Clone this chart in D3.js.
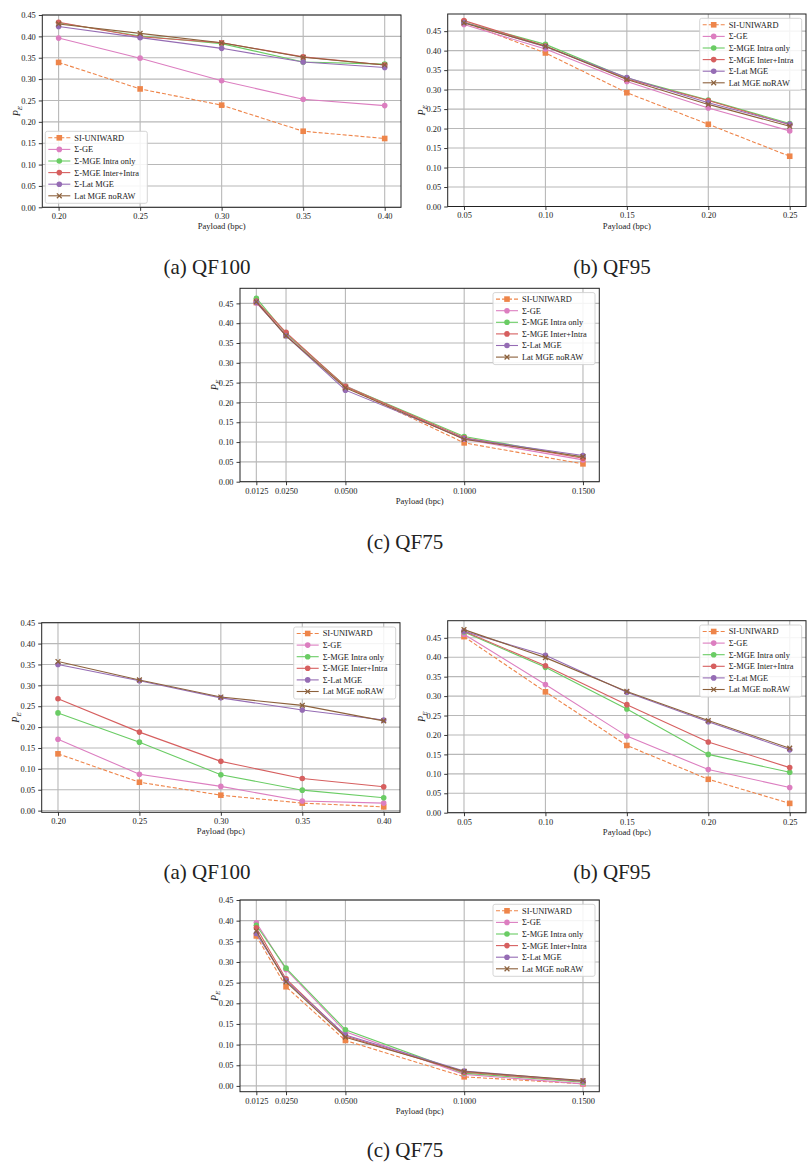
<!DOCTYPE html>
<html>
<head>
<meta charset="utf-8">
<script src="https://cdn.jsdelivr.net/npm/d3@7"></script>
<style>
  html, body { margin: 0; padding: 0; background: #fff; }
  svg { display: block; }
  text { font-family: "Liberation Serif", "Times New Roman", serif; fill: #222; }
</style>
</head>
<body>
<svg id="chart" width="811" height="1169"></svg>
<script>
// ---------------- DATA ----------------
const seriesNames = ["SI-UNIWARD", "Σ-GE", "Σ-MGE Intra only", "Σ-MGE Inter+Intra", "Σ-Lat MGE", "Lat MGE noRAW"];
const seriesColors = ["#ee854a", "#dc7ec0", "#6acc64", "#d65f5f", "#956cb4", "#8c613c"];
const seriesMarkers = ["square", "circle", "circle", "circle", "circle", "x"];
const seriesDashed = [true, false, false, false, false, false];

const payloadQF100 = [0.20, 0.25, 0.30, 0.35, 0.40];
const payloadQF95 = [0.05, 0.10, 0.15, 0.20, 0.25];
const payloadQF75 = [0.0125, 0.0250, 0.0500, 0.1000, 0.1500];

const yTicks = [0.00, 0.05, 0.10, 0.15, 0.20, 0.25, 0.30, 0.35, 0.40, 0.45];

// Top figure
const peTopQF100 = [
  [0.339, 0.277, 0.239, 0.178, 0.161],
  [0.396, 0.349, 0.296, 0.253, 0.238],
  [0.432, 0.401, 0.383, 0.340, 0.335],
  [0.433, 0.399, 0.385, 0.352, 0.333],
  [0.423, 0.397, 0.372, 0.340, 0.327],
  [0.429, 0.407, 0.385, 0.351, 0.333]
];
const peTopQF95 = [
  [0.473, 0.394, 0.292, 0.211, 0.129],
  [0.467, 0.404, 0.321, 0.253, 0.194],
  [0.473, 0.416, 0.330, 0.273, 0.213],
  [0.477, 0.412, 0.327, 0.272, 0.210],
  [0.472, 0.410, 0.331, 0.266, 0.211],
  [0.471, 0.411, 0.326, 0.262, 0.206]
];
const peTopQF75 = [
  [0.452, 0.372, 0.240, 0.098, 0.045],
  [0.451, 0.371, 0.242, 0.107, 0.055],
  [0.463, 0.374, 0.241, 0.114, 0.061],
  [0.456, 0.377, 0.240, 0.111, 0.059],
  [0.453, 0.368, 0.231, 0.109, 0.066],
  [0.454, 0.368, 0.237, 0.107, 0.063]
];
// Bottom figure
const peBotQF100 = [
  [0.136, 0.068, 0.037, 0.018, 0.009],
  [0.171, 0.087, 0.058, 0.023, 0.018],
  [0.234, 0.164, 0.086, 0.049, 0.031],
  [0.268, 0.188, 0.118, 0.077, 0.057],
  [0.350, 0.311, 0.270, 0.241, 0.217],
  [0.357, 0.313, 0.272, 0.252, 0.215]
];
const peBotQF95 = [
  [0.453, 0.311, 0.173, 0.086, 0.024],
  [0.459, 0.330, 0.197, 0.111, 0.065],
  [0.465, 0.374, 0.267, 0.150, 0.104],
  [0.467, 0.378, 0.278, 0.182, 0.116],
  [0.467, 0.405, 0.310, 0.234, 0.162],
  [0.471, 0.399, 0.312, 0.237, 0.166]
];
const peBotQF75 = [
  [0.363, 0.240, 0.110, 0.022, 0.005],
  [0.395, 0.282, 0.131, 0.028, 0.005],
  [0.389, 0.285, 0.136, 0.031, 0.009],
  [0.383, 0.259, 0.121, 0.033, 0.011],
  [0.369, 0.255, 0.123, 0.036, 0.012],
  [0.375, 0.252, 0.118, 0.035, 0.013]
];

const captions = ["(a) QF100", "(b) QF95", "(c) QF75"];

// ---------------- LAYOUT ----------------
const panels = [
  { x: payloadQF100, data: peTopQF100, fmt: ".2f", l: 42.3, r: 401, t: 15, b: 207.3, ylim: [0, 0.45], legend: "ll", cap: captions[0], capX: 207, capY: 267 },
  { x: payloadQF95, data: peTopQF95, fmt: ".2f", l: 447.7, r: 806, t: 14, b: 206.5, ylim: [0, 0.494], legend: "ur", cap: captions[1], capX: 612, capY: 267 },
  { x: payloadQF75, data: peTopQF75, fmt: ".4f", l: 240, r: 599.3, t: 288.3, b: 481.7, ylim: [0, 0.488], legend: "ur", cap: captions[2], capX: 405, capY: 542 },
  { x: payloadQF100, data: peBotQF100, fmt: ".2f", l: 41.7, r: 400, t: 622.7, b: 812.3, ylim: [-0.004, 0.45], legend: "ur", cap: captions[0], capX: 207, capY: 872 },
  { x: payloadQF95, data: peBotQF95, fmt: ".2f", l: 447.7, r: 806, t: 620.7, b: 812.7, ylim: [0, 0.494], legend: "ur", cap: captions[1], capX: 612, capY: 872 },
  { x: payloadQF75, data: peBotQF75, fmt: ".4f", l: 240, r: 599.3, t: 900, b: 1091.7, ylim: [-0.014, 0.45], legend: "ur", cap: captions[2], capX: 405, capY: 1150 }
];

const svg = d3.select("#chart");
svg.append("rect").attr("width", 811).attr("height", 1169).attr("fill", "#fff");

function drawMarker(g, type, cx, cy, color) {
  if (type === "circle") {
    g.append("circle").attr("cx", cx).attr("cy", cy).attr("r", 2.8).attr("fill", color);
  } else if (type === "square") {
    g.append("rect").attr("x", cx - 2.8).attr("y", cy - 2.8).attr("width", 5.6).attr("height", 5.6).attr("fill", color);
  } else {
    const s = 2.4;
    g.append("path").attr("d", `M${cx - s},${cy - s}L${cx + s},${cy + s}M${cx - s},${cy + s}L${cx + s},${cy - s}`)
      .attr("stroke", color).attr("stroke-width", 1.3).attr("fill", "none");
  }
}

panels.forEach(p => {
  const xr = p.x[p.x.length - 1] - p.x[0];
  const xs = d3.scaleLinear().domain([p.x[0] - 0.05 * xr, p.x[p.x.length - 1] + 0.05 * xr]).range([p.l, p.r]);
  const ys = d3.scaleLinear().domain(p.ylim).range([p.b, p.t]);
  const g = svg.append("g");
  const ticksY = yTicks.filter(v => v >= p.ylim[0] - 1e-9 && v <= p.ylim[1] + 1e-9);

  // grid
  g.append("g").selectAll("line.gy").data(ticksY).join("line")
    .attr("x1", p.l).attr("x2", p.r).attr("y1", d => ys(d)).attr("y2", d => ys(d))
    .attr("stroke", "#b8b8b8").attr("stroke-width", 1.1);
  g.append("g").selectAll("line.gx").data(p.x).join("line")
    .attr("y1", p.t).attr("y2", p.b).attr("x1", d => xs(d)).attr("x2", d => xs(d))
    .attr("stroke", "#b8b8b8").attr("stroke-width", 1.1);

  // axes
  const yAxis = d3.axisLeft(ys).tickValues(ticksY).tickFormat(d3.format(".2f")).tickSize(3.5).tickPadding(3);
  const xAxis = d3.axisBottom(xs).tickValues(p.x).tickFormat(d3.format(p.fmt)).tickSize(3.5).tickPadding(2.5);
  const ga = g.append("g").attr("transform", `translate(${p.l},0)`).call(yAxis);
  const gb = g.append("g").attr("transform", `translate(0,${p.b})`).call(xAxis);
  [ga, gb].forEach(a => {
    a.select(".domain").remove();
    a.selectAll(".tick line").attr("stroke", "#222").attr("stroke-width", 0.9);
    a.selectAll(".tick text").attr("font-family", "Liberation Serif, serif").attr("font-size", 8.4).attr("fill", "#333");
  });

  // series
  p.data.forEach((vals, si) => {
    const pts = p.x.map((xv, i) => [xs(xv), ys(vals[i])]);
    const sg = g.append("g");
    sg.append("path").attr("d", d3.line()(pts)).attr("fill", "none")
      .attr("stroke", seriesColors[si]).attr("stroke-width", 1.1)
      .attr("stroke-dasharray", seriesDashed[si] ? "4,2" : null);
    pts.forEach(pt => drawMarker(sg, seriesMarkers[si], pt[0], pt[1], seriesColors[si]));
  });

  // frame
  g.append("rect").attr("x", p.l).attr("y", p.t).attr("width", p.r - p.l).attr("height", p.b - p.t)
    .attr("fill", "none").attr("stroke", "#222").attr("stroke-width", 1);

  // legend
  const lw = 102, lh = 72;
  const lx = p.legend === "ll" ? p.l + 3 : p.r - 4.3 - lw;
  const ly = p.legend === "ll" ? p.b - 4 - lh : p.t + 4.3;
  const lg = g.append("g");
  lg.append("rect").attr("x", lx).attr("y", ly).attr("width", lw).attr("height", lh).attr("rx", 2)
    .attr("fill", "#fff").attr("fill-opacity", 0.85).attr("stroke", "#d0d0d0").attr("stroke-width", 0.9);
  seriesNames.forEach((name, si) => {
    const yy = ly + 6.5 + si * 11.6;
    lg.append("line").attr("x1", lx + 3).attr("x2", lx + 25).attr("y1", yy).attr("y2", yy)
      .attr("stroke", seriesColors[si]).attr("stroke-width", 1.1)
      .attr("stroke-dasharray", seriesDashed[si] ? "4,2" : null);
    drawMarker(lg, seriesMarkers[si], lx + 14, yy, seriesColors[si]);
    lg.append("text").attr("x", lx + 29).attr("y", yy).attr("dy", "0.35em")
      .attr("font-size", 8.4).attr("fill", "#333").text(name);
  });

  // axis labels
  g.append("text").attr("x", (p.l + p.r) / 2).attr("y", p.b + 19).attr("dy", "0.35em")
    .attr("text-anchor", "middle").attr("font-size", 8.6).attr("fill", "#333").text("Payload (bpc)");
  const yl = g.append("text").attr("transform", `translate(${p.l - 26},${(p.t + p.b) / 2}) rotate(-90)`)
    .attr("text-anchor", "middle").attr("fill", "#333");
  yl.append("tspan").attr("font-style", "italic").attr("font-size", 10).attr("dy", "3.5").text("P");
  yl.append("tspan").attr("font-style", "italic").attr("font-size", 7).attr("dy", "2").text("E");

  // caption
  svg.append("text").attr("x", p.capX).attr("y", p.capY).attr("dy", "0.35em")
    .attr("text-anchor", "middle").attr("font-family", "DejaVu Serif, serif").attr("font-size", 21)
    .attr("fill", "#111").text(p.cap);
});
</script>
</body>
</html>
